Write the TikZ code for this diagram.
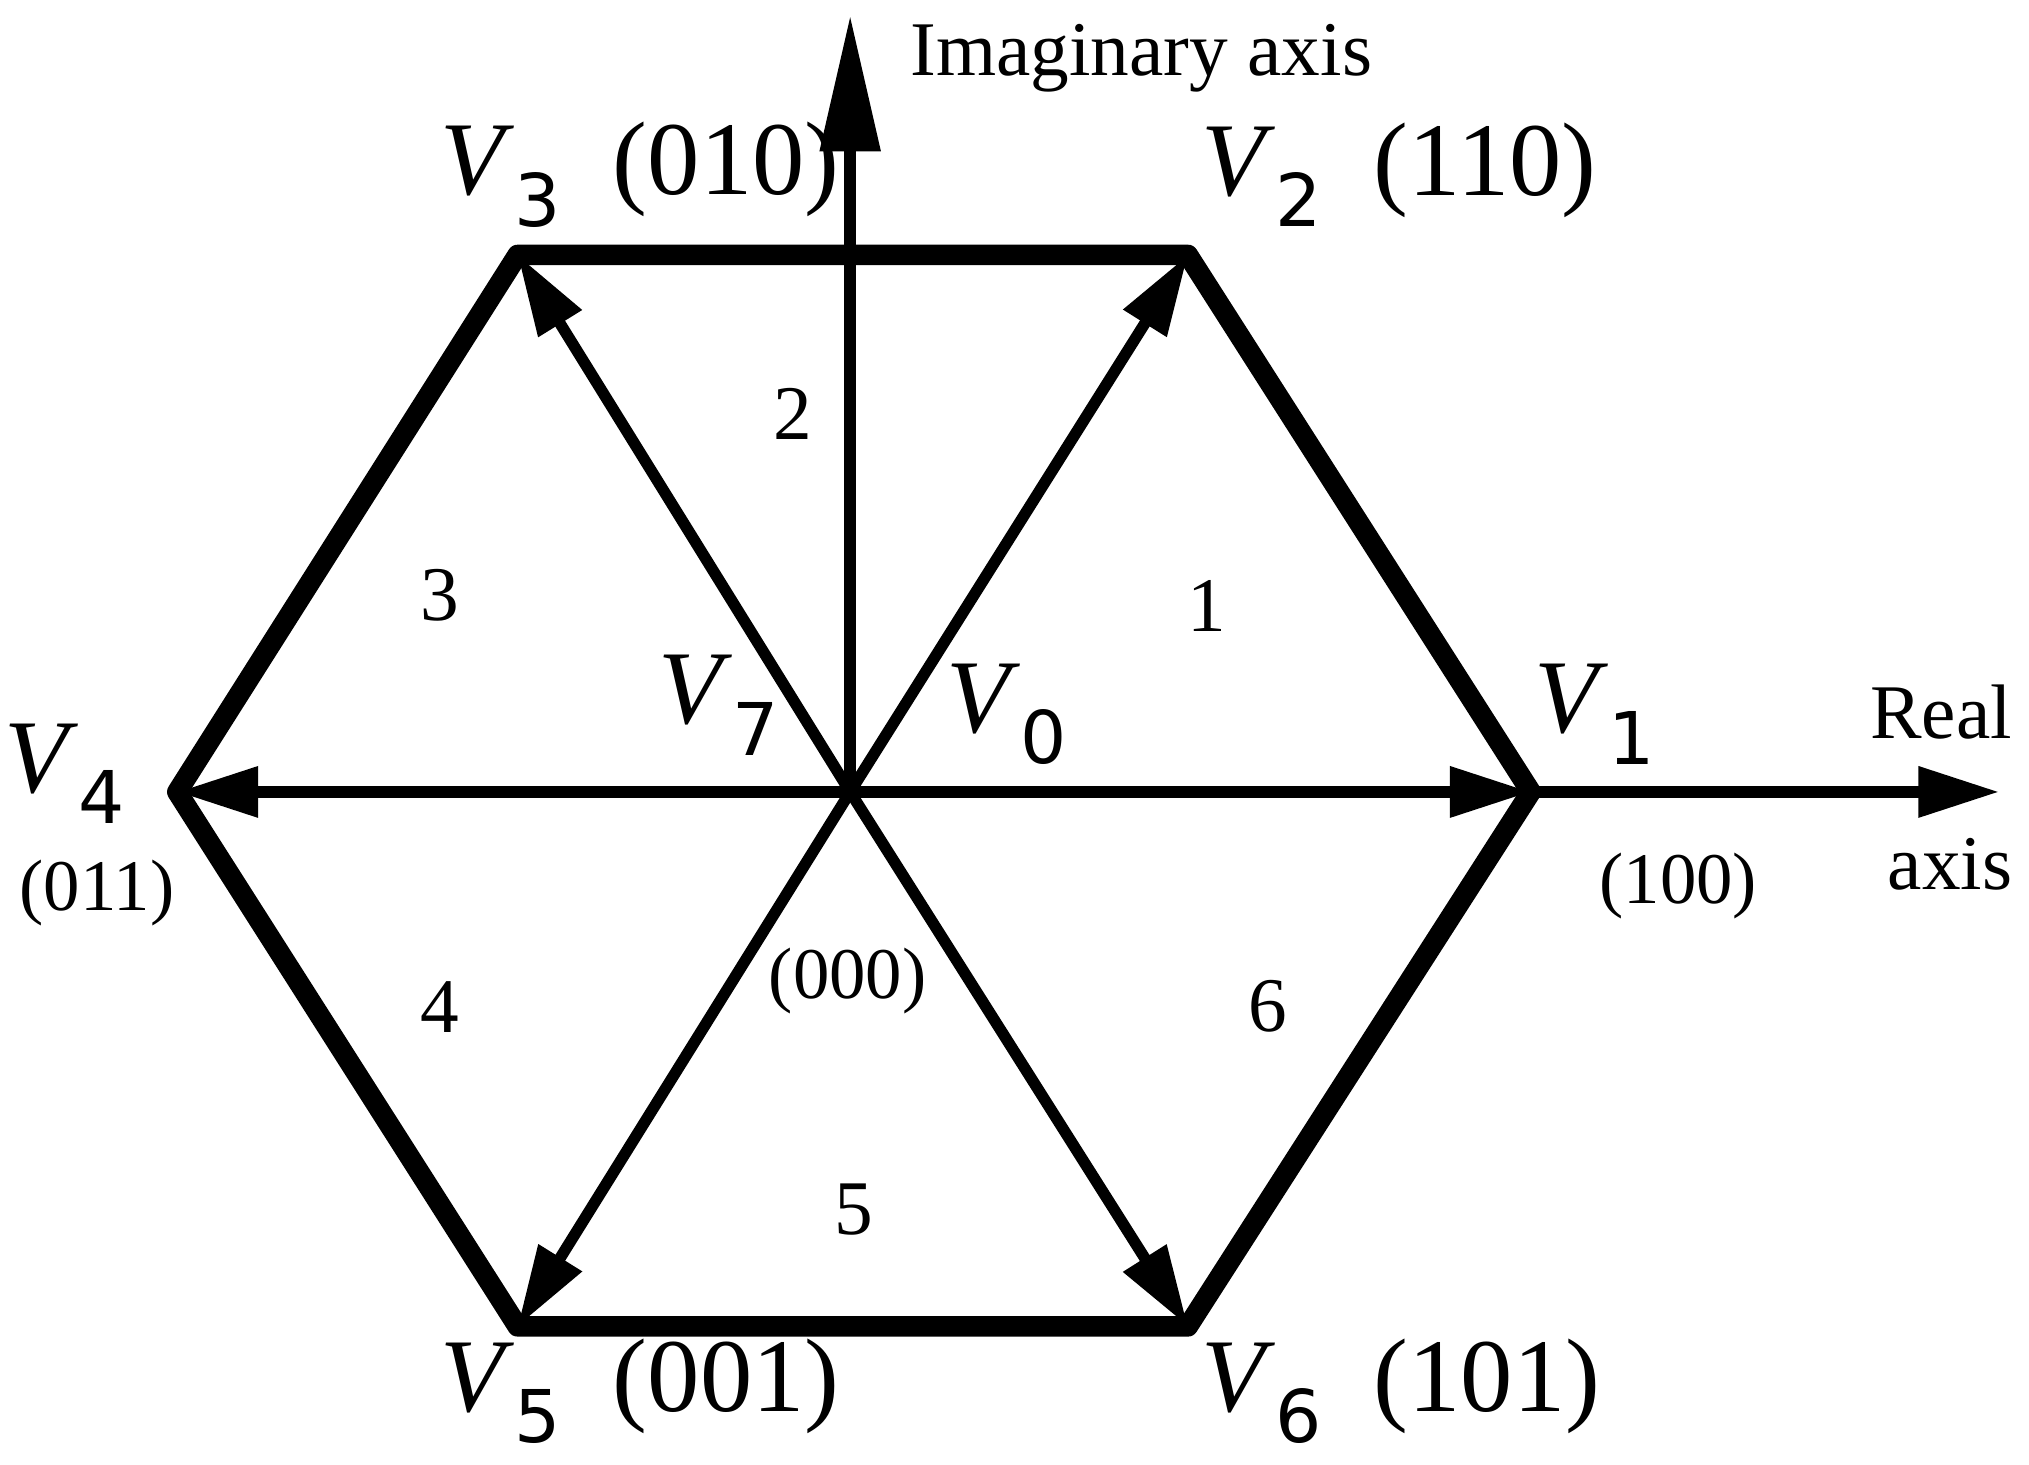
\documentclass[tikz,border=0pt]{standalone}
\usepackage{fontspec}
\setmainfont{Liberation Serif}
\newfontfamily\subf{DejaVu Sans}
\usetikzlibrary{arrows.meta}
\newcommand{\VV}[1]{\fontsize{46}{50}\selectfont\textit{V}\raisebox{-0.3em}{\fontsize{32}{36}\selectfont\subf #1}}
\tikzset{
  hexe/.style={line width=9pt,line join=round,line cap=round},
  vec/.style={line width=5pt,-{Triangle[length=1.25cm,width=0.75cm]}},
  bigvec/.style={line width=5pt,-{Triangle[length=2.1cm,width=0.9cm]}},
  txt/.style={font=\fontsize{34}{38}\selectfont,inner sep=0pt},
  code/.style={font=\fontsize{32}{36}\selectfont,inner sep=0pt},
}
\begin{document}
\begin{tikzpicture}[x=0.02cm,y=-0.02cm]
\useasboundingbox (0,0) rectangle (1568,1132);
\coordinate (O) at (657,612);
\coordinate (V1) at (1183,612);
\coordinate (V2) at (918,197);
\coordinate (V3) at (400,197);
\coordinate (V4) at (137,612);
\coordinate (V5) at (400,1025);
\coordinate (V6) at (918,1025);
\coordinate (RE) at (1545,612);
\coordinate (IM) at (657,12);
\draw[hexe] (V1)--(V2)--(V3)--(V4)--(V5)--(V6)--cycle;
\draw[bigvec] (O)--(IM);
\draw[vec] (V1)--(RE);
\foreach \v in {V1,V2,V3,V4,V5,V6} \draw[vec] (O)--(\v);
\node[txt] (lim) at (882,45) {Imaginary axis};
\node[code,anchor=west] (l3) at (340,135) {\VV{3}\ \ (010)};
\node[code,anchor=west] (l2) at (928,135) {\VV{2}\ \ (110)};
\node[code,anchor=west] (l5) at (340,1075) {\VV{5}\ \ (001)};
\node[code,anchor=west] (l6) at (928,1075) {\VV{6}\ \ (101)};
\node[txt] (l7) at (555,545) {\VV{7}};
\node[txt] (l0) at (778,552) {\VV{0}};
\node[txt] (l1) at (1232,552) {\VV{1}};
\node[txt] (l4) at (50,598) {\VV{4}};
\node[code] (c011) at (75,690) {(011)};
\node[code] (c100) at (1297,685) {(100)};
\node[code] (c000) at (655,758) {(000)};
\node[txt] (lre) at (1500,550) {Real};
\node[txt] (lax) at (1507,668) {axis};
\node[txt] (s1) at (933,468) {1};
\node[txt] (s2) at (613,320) {2};
\node[txt] (s3) at (340,460) {3};
\node[txt] (s4) at (340,778) {4};
\node[txt] (s5) at (660,935) {5};
\node[txt] (s6) at (980,778) {6};
\end{tikzpicture}
\end{document}
